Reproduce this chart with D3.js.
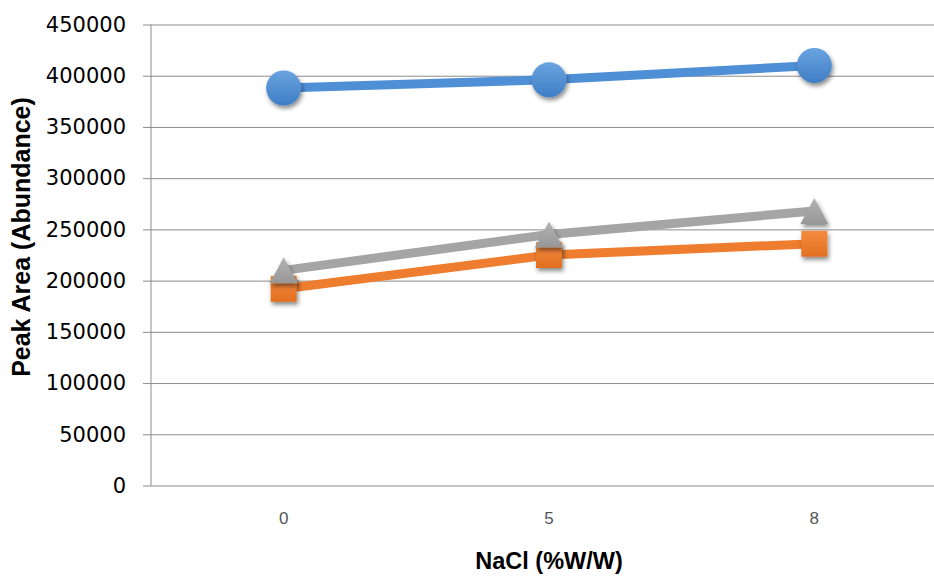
<!DOCTYPE html>
<html>
<head>
<meta charset="utf-8">
<script src="https://cdn.jsdelivr.net/npm/d3@7"></script>
<style>
  html, body { margin: 0; padding: 0; background: #ffffff; }
  svg { display: block; }
</style>
</head>
<body>
<svg id="chart" width="934" height="576"></svg>
<script>
// NaCl concentration categories (%W/W)
const categories = ["0", "5", "8"];

// Peak area per series at each NaCl level
const seriesBlue   = [388000, 396000, 410000];
const seriesOrange = [192000, 225000, 236000];
const seriesGray   = [210000, 245000, 268000];

// Y axis ticks
const yTicks = [0, 50000, 100000, 150000, 200000, 250000, 300000, 350000, 400000, 450000];

const xTitle = "NaCl (%W/W)";
const yTitle = "Peak Area (Abundance)";

const series = [
  { name: "blue",   values: seriesBlue,   color: "#4f8fd6", light: "#6aa4e0", dark: "#3f7dc4", marker: "circle" },
  { name: "orange", values: seriesOrange, color: "#ee7d2f", light: "#f38b40", dark: "#e36f1f", marker: "square" },
  { name: "gray",   values: seriesGray,   color: "#a5a5a5", light: "#b3b3b3", dark: "#979797", marker: "triangle" }
];

const svg = d3.select("#chart");
const plot = { left: 151, right: 947, top: 24.5, bottom: 485.5 };

const x = d3.scaleBand().domain(categories).range([plot.left, plot.right]);
const y = d3.scaleLinear().domain([0, 450000]).range([plot.bottom, plot.top]);
const cx = c => x(c) + x.bandwidth() / 2;

const defs = svg.append("defs");
const shadow = defs.append("filter").attr("id", "shadow")
  .attr("x", "-50%").attr("y", "-50%").attr("width", "200%").attr("height", "200%");
shadow.append("feDropShadow").attr("dx", 1.5).attr("dy", 3).attr("stdDeviation", 2.2)
  .attr("flood-color", "#000").attr("flood-opacity", 0.45);

series.forEach(s => {
  const g = defs.append("linearGradient").attr("id", "grad-" + s.name)
    .attr("x1", 0).attr("y1", 0).attr("x2", 0).attr("y2", 1);
  g.append("stop").attr("offset", "0%").attr("stop-color", s.light);
  g.append("stop").attr("offset", "100%").attr("stop-color", s.dark);
});

// Horizontal gridlines with short outward ticks
const yAxis = d3.axisLeft(y).tickValues(yTicks)
  .tickSize(-(plot.right - plot.left)).tickFormat(d => d).tickPadding(17);
const gy = svg.append("g").attr("transform", `translate(${plot.left},0)`).call(yAxis);
gy.select(".domain").remove();
gy.selectAll(".tick line").attr("stroke", "#8c8c8c").attr("stroke-width", 1)
  .attr("x1", -8);
gy.selectAll(".tick text")
  .attr("font-family", "DejaVu Sans, sans-serif").attr("font-size", 21)
  .attr("fill", "#000").attr("x", -25);

// Vertical axis line
svg.append("line")
  .attr("x1", plot.left).attr("x2", plot.left)
  .attr("y1", y(450000)).attr("y2", y(0))
  .attr("stroke", "#8c8c8c").attr("stroke-width", 1);

// Category labels
const xAxis = d3.axisBottom(x).tickSize(0).tickPadding(26);
const gx = svg.append("g").attr("transform", `translate(0,${plot.bottom})`).call(xAxis);
gx.select(".domain").remove();
gx.selectAll(".tick text")
  .attr("font-family", "Liberation Sans, Arial, sans-serif").attr("font-size", 17)
  .attr("fill", "#555");

// Axis titles
svg.append("text")
  .attr("x", 549).attr("y", 569)
  .attr("text-anchor", "middle")
  .attr("font-family", "Liberation Sans, Arial, sans-serif")
  .attr("font-weight", "bold").attr("font-size", 23.5)
  .text(xTitle);

svg.append("text")
  .attr("transform", "translate(30,237) rotate(-90)")
  .attr("text-anchor", "middle")
  .attr("font-family", "Liberation Sans, Arial, sans-serif")
  .attr("font-weight", "bold").attr("font-size", 25)
  .text(yTitle);

// Series lines
const line = d3.line().x((d, i) => cx(categories[i])).y(d => y(d));
series.forEach(s => {
  svg.append("path").datum(s.values)
    .attr("d", line).attr("fill", "none")
    .attr("stroke", s.color).attr("stroke-width", 9)
    .attr("stroke-linejoin", "round");
});

// Markers
series.forEach(s => {
  const g = svg.append("g").attr("filter", "url(#shadow)");
  s.values.forEach((v, i) => {
    const px = cx(categories[i]), py = y(v);
    if (s.marker === "circle") {
      g.append("circle").attr("cx", px).attr("cy", py).attr("r", 17.5)
        .attr("fill", `url(#grad-${s.name})`);
    } else if (s.marker === "square") {
      g.append("rect").attr("x", px - 13).attr("y", py - 13)
        .attr("width", 26).attr("height", 26)
        .attr("fill", `url(#grad-${s.name})`);
    } else {
      const h = 26, w = 28;
      g.append("path")
        .attr("d", `M${px},${py - h / 2} L${px + w / 2},${py + h / 2} L${px - w / 2},${py + h / 2} Z`)
        .attr("fill", `url(#grad-${s.name})`);
    }
  });
});
</script>
</body>
</html>
